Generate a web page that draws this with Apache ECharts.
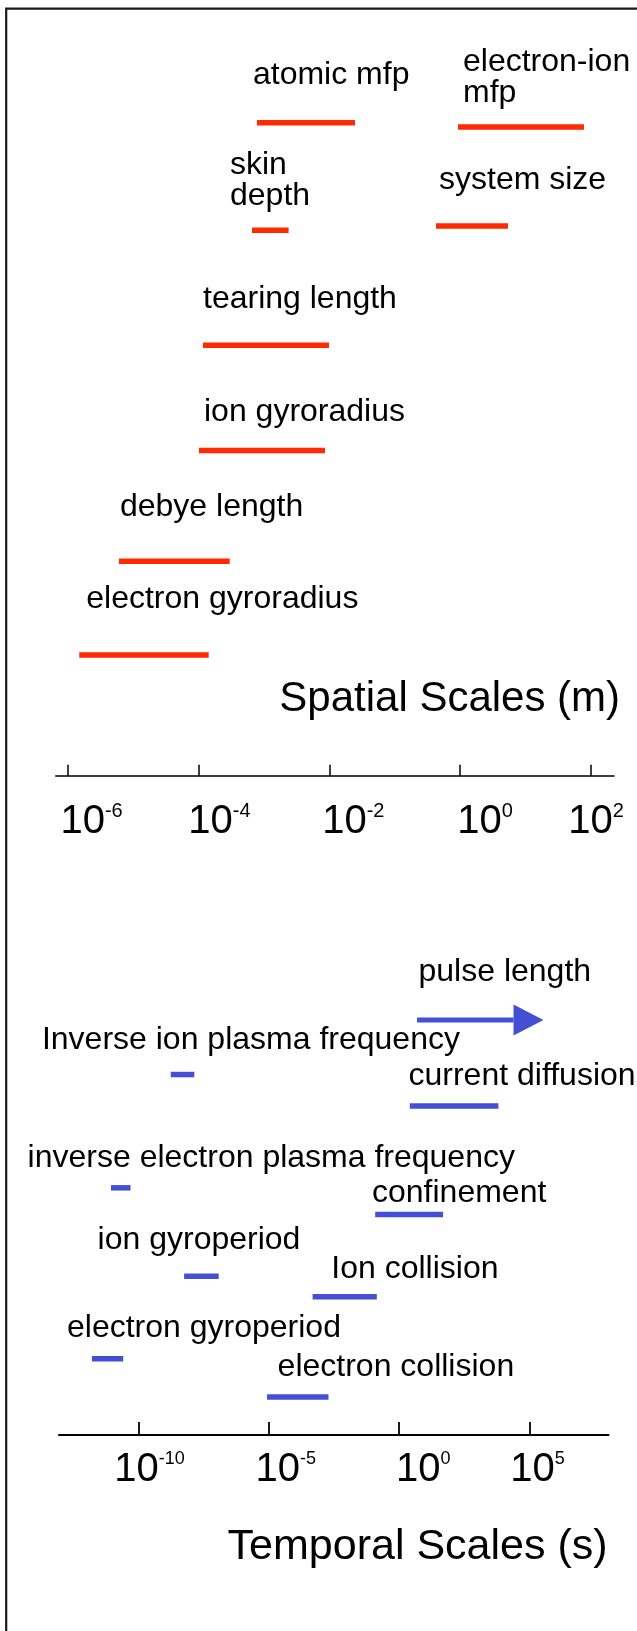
<!DOCTYPE html>
<html>
<head>
<meta charset="utf-8">
<script src="https://cdn.jsdelivr.net/npm/echarts@6/dist/echarts.min.js"></script>
<style>
  html, body { margin: 0; padding: 0; background: #fff; }
  #chart { width: 637px; height: 1631px; }
</style>
</head>
<body>
<div id="chart"></div>
<script>
// ================= DATA (log10 values) =================
// Spatial scales, metres (log10)
const spatialNames = ['atomic mfp', 'electron-ion\nmfp', 'skin\ndepth', 'system size',
  'tearing length', 'ion gyroradius', 'debye length', 'electron gyroradius'];
const spatialStart = [-3.105, -0.033, -3.181, -0.369, -3.930, -3.991, -5.214, -5.821];
const spatialEnd   = [-1.607,  1.892, -2.622,  0.731, -2.005, -2.066, -3.522, -3.843];
const spatialTicks = [-6, -4, -2, 0, 2];

// Temporal scales, seconds (log10)
const temporalNames = ['pulse length', 'Inverse ion plasma frequency', 'current diffusion',
  'inverse electron plasma frequency', 'confinement', 'ion gyroperiod', 'Ion collision',
  'electron gyroperiod', 'electron collision'];
const temporalStart = [0.683, -8.761, 0.406, -11.051, -0.920, -8.248, -3.321, -11.783, -5.069];
const temporalEnd   = [5.533, -7.857, 3.804, -10.303,  1.683, -6.921, -0.859, -10.583, -2.711];
const temporalOpenEnded = [true, false, false, false, false, false, false, false, false];
const temporalTicks = [-10, -5, 0, 5];

// ================= LAYOUT / STYLE =================
// vertical lanes (hidden axis units) – diagram layout only
const spatialLane  = [0, 0.04, 1.01, 0.97, 2.09, 3.08, 4.12, 5.0];
const temporalLane = [0, 1.157, 1.825, 3.561, 4.127, 5.437, 5.872, 7.189, 8.0];
// label offsets: [dx from bar start, baseline distance above bar] in px
const spatialLabelOffset = [[-4, 39.4], [5, 25], [-22, 25.7], [3, 37.7], [0, 37.4], [5, 30], [1, 46], [7, 47.7]];
const temporalLabelOffset = [[1.5, 40], [-128.8, 26.2], [-1.3, 22], [-83.4, 21.8], [-3.2, 12.8],
  [-86.5, 27.9], [18.7, 19.4], [-24.9, 22.8], [10.6, 21.3]];
// tick label horizontal shift (px) relative to the tick
const spatialTickShift = [24, 21, 24, 25, 5];
const temporalTickShift = [11, 17, 24, 8];

const FONT = "'Liberation Sans', Arial, Helvetica, sans-serif";
const RED = '#ff2a00';
const BLUE = '#4350d6';
const LABEL_FS = 32;
const LABEL_LH = 31;
const BAR_H = 5.5;
const MID = 0.26; // canvas 'middle' -> alphabetic baseline, in em

function makeRender(names, offsets, color, arrows) {
  return function (params, api) {
    const i = params.dataIndex;
    const p0 = api.coord([api.value(0), api.value(2)]);
    const p1 = api.coord([api.value(1), api.value(2)]);
    const y = p0[1];
    const children = [];
    if (arrows && arrows[i]) {
      const headL = 30, headH = 31, shaft = 5;
      children.push({ type: 'rect', shape: { x: p0[0], y: y - shaft / 2, width: p1[0] - headL - p0[0], height: shaft },
        style: { fill: color } });
      children.push({ type: 'polygon', shape: { points: [[p1[0] - headL, y - headH / 2], [p1[0], y], [p1[0] - headL, y + headH / 2]] },
        style: { fill: color } });
    } else {
      children.push({ type: 'rect', shape: { x: p0[0], y: y - BAR_H / 2, width: p1[0] - p0[0], height: BAR_H },
        style: { fill: color } });
    }
    const off = offsets[i];
    const baseline = y - off[1];
    children.push({
      type: 'text',
      style: {
        text: names[i], x: p0[0] + off[0], y: baseline - MID * LABEL_FS + LABEL_LH / 2,
        fontSize: LABEL_FS, fontFamily: FONT, lineHeight: LABEL_LH, fill: '#000',
        align: 'left', verticalAlign: 'bottom'
      }
    });
    return { type: 'group', children: children };
  };
}

function tickLabel(ticks, shifts, baseFs, supFs, supLh, margin) {
  const rich = {
    a: { fontSize: baseFs, lineHeight: baseFs, fontFamily: FONT, color: '#000' },
    b: { fontSize: supFs, lineHeight: supLh, fontFamily: FONT, color: '#000', verticalAlign: 'top' }
  };
  ticks.forEach(function (t, i) { rich['p' + i] = { width: Math.abs(2 * shifts[i]), lineHeight: baseFs }; });
  return {
    show: true, customValues: ticks, margin: margin, color: '#000', align: 'center',
    formatter: function (v) {
      const i = ticks.indexOf(Number(v));
      const body = '{a|10}{b|' + String(v) + '}';
      const sp = '{p' + i + '|}';
      return shifts[i] >= 0 ? sp + body : body + sp;
    },
    rich: rich
  };
}

function baselineText(text, x, baseline, fs) {
  return {
    type: 'text', x: 0, y: 0, z: 10,
    style: { text: text, x: x, y: baseline - MID * fs, fontSize: fs, fontFamily: FONT, fill: '#000',
      align: 'left', verticalAlign: 'middle' }
  };
}

const chart = echarts.init(document.getElementById('chart'), null, { renderer: 'canvas', width: 637, height: 1631 });

const option = {
  animation: false,
  backgroundColor: '#ffffff',
  grid: [
    { left: 55.7, top: 16.24, width: 558.3, height: 759.46 },
    { left: 59, top: 972.875, width: 549.5, height: 462.125 }
  ],
  xAxis: [
    {
      gridIndex: 0, type: 'value', min: -6.181, max: 2.351, position: 'bottom',
      axisLine: { show: true, onZero: false, lineStyle: { color: '#000', width: 1.5 } },
      axisTick: { show: true, inside: true, length: 11, customValues: spatialTicks, lineStyle: { color: '#000', width: 1.5 } },
      axisLabel: tickLabel(spatialTicks, spatialTickShift, 40, 20, 18, 26),
      splitLine: { show: false }
    },
    {
      gridIndex: 1, type: 'value', min: -13.045, max: 8.025, position: 'bottom',
      axisLine: { show: true, onZero: false, lineStyle: { color: '#000', width: 2 } },
      axisTick: { show: true, inside: true, length: 13, customValues: temporalTicks, lineStyle: { color: '#000', width: 1.8 } },
      axisLabel: tickLabel(temporalTicks, temporalTickShift, 40, 18, 16, 15.3),
      splitLine: { show: false }
    }
  ],
  yAxis: [
    { gridIndex: 0, type: 'value', inverse: true, min: -1, max: 6.134, show: false },
    { gridIndex: 1, type: 'value', inverse: true, min: -1, max: 8.806, show: false }
  ],
  series: [
    {
      type: 'custom', name: 'Spatial Scales (m)', xAxisIndex: 0, yAxisIndex: 0, clip: false,
      encode: { x: [0, 1], y: 2 },
      renderItem: makeRender(spatialNames, spatialLabelOffset, RED, null),
      data: spatialStart.map(function (s, i) { return [s, spatialEnd[i], spatialLane[i]]; })
    },
    {
      type: 'custom', name: 'Temporal Scales (s)', xAxisIndex: 1, yAxisIndex: 1, clip: false,
      encode: { x: [0, 1], y: 2 },
      renderItem: makeRender(temporalNames, temporalLabelOffset, BLUE, temporalOpenEnded),
      data: temporalStart.map(function (s, i) { return [s, temporalEnd[i], temporalLane[i]]; })
    }
  ],
  graphic: [
    {
      type: 'rect', x: 0, y: 0, z: 20,
      shape: { x: 6.2, y: 8.7, width: 700, height: 1700 },
      style: { fill: 'none', stroke: '#1a1a1a', lineWidth: 2.2 }
    },
    baselineText('Spatial Scales (m)', 279.3, 710.7, 42),
    baselineText('Temporal Scales (s)', 227.6, 1558.3, 43)
  ]
};
chart.setOption(option);
</script>
</body>
</html>
